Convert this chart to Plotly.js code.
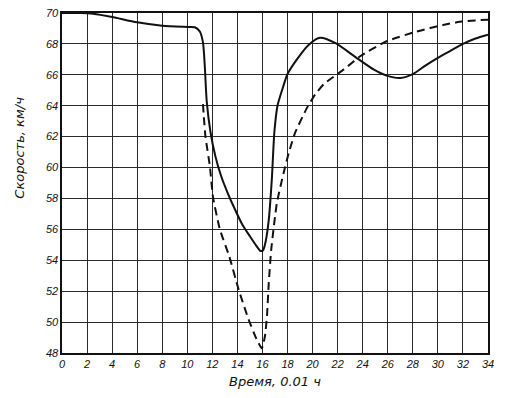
<!DOCTYPE html>
<html>
<head>
<meta charset="utf-8">
<script src="https://cdn.plot.ly/plotly-3.0.1.min.js"></script>
<style>html,body{margin:0;padding:0;background:#fff;}#chart{width:509px;height:398px;}</style>
</head>
<body>
<div id="chart"></div>
<script>
// Solid curve
var solidX = [0, 1.5, 2.5, 4, 6, 8, 10, 10.6, 11.0, 11.25, 11.4, 11.55, 11.85, 12.25, 12.7, 13.2, 13.8, 14.4, 15.0, 15.5, 15.85, 16.05, 16.25, 16.5, 16.75, 16.95, 17.2, 17.6, 18.0, 18.75, 19.7, 20.6, 21.8, 23.5, 24.9, 25.9, 27.0, 28.0, 29.0, 30.0, 31.0, 32.0, 33.0, 34.0];
var solidY = [70, 70, 69.95, 69.74, 69.4, 69.18, 69.1, 69.08, 68.8, 68.1, 66.5, 64.3, 62.3, 60.7, 59.45, 58.4, 57.3, 56.3, 55.55, 54.95, 54.6, 54.65, 55.2, 56.6, 59.3, 62.3, 64.0, 65.1, 66.05, 67.0, 67.95, 68.4, 68.06, 67.1, 66.33, 65.95, 65.8, 66.05, 66.6, 67.1, 67.55, 68.0, 68.35, 68.6];
// Dashed curve
var dashX = [11.25, 11.45, 11.8, 12.05, 12.6, 13.35, 14.1, 14.9, 15.55, 15.95, 16.2, 16.36, 16.5, 16.7, 17.15, 17.7, 18.1, 18.6, 19.55, 20.2, 20.9, 22.5, 23.8, 25.9, 28.3, 30.5, 32.0, 34.0];
var dashY = [64.1, 62.0, 60.1, 58.1, 56.0, 54.25, 52.1, 50.15, 48.86, 48.3, 49.1, 50.4, 52.5, 54.7, 57.7, 59.7, 60.95, 62.24, 63.86, 64.72, 65.4, 66.35, 67.2, 68.17, 68.8, 69.24, 69.46, 69.57];
var xTicks = [0,2,4,6,8,10,12,14,16,18,20,22,24,26,28,30,32,34];
var yTicks = [48,50,52,54,56,58,60,62,64,66,68,70];
var xTitle = 'Время, 0.01 ч';
var yTitle = 'Скорость, км/ч';

var tickFont = {family: 'Liberation Sans, Arial, sans-serif', size: 11, color: '#111', style: 'italic'};
var titleFont = {family: 'DejaVu Sans, sans-serif', size: 13, color: '#111', style: 'italic'};

var traces = [
  {x: solidX, y: solidY, mode: 'lines', line: {color: '#111', width: 2, shape: 'spline', smoothing: 0.7}, hoverinfo: 'skip'},
  {x: dashX, y: dashY, mode: 'lines', line: {color: '#111', width: 2, dash: '8px,5px', shape: 'spline', smoothing: 0.5}, hoverinfo: 'skip'}
];

var layout = {
  width: 509, height: 398,
  margin: {l: 62, r: 21, t: 13, b: 45},
  paper_bgcolor: '#fff', plot_bgcolor: '#fff',
  showlegend: false,
  xaxis: {
    range: [0, 34], tickvals: xTicks, ticktext: xTicks.map(String),
    showgrid: true, gridcolor: '#2a2a2a', gridwidth: 1,
    showline: true, linecolor: '#111', linewidth: 1.6, mirror: true,
    zeroline: false, ticks: '', tickfont: tickFont,
    title: {text: xTitle, font: titleFont, standoff: 8}
  },
  yaxis: {
    range: [48, 70], tickvals: yTicks, ticktext: yTicks.map(String),
    showgrid: true, gridcolor: '#2a2a2a', gridwidth: 1,
    showline: true, linecolor: '#111', linewidth: 1.6, mirror: true,
    zeroline: false, ticks: '', tickfont: tickFont
  },
  annotations: [
    {text: yTitle, xref: 'paper', yref: 'paper', x: -0.0986, y: 0.604, textangle: -90,
     showarrow: false, font: titleFont, xanchor: 'center', yanchor: 'middle'}
  ]
};

Plotly.newPlot('chart', traces, layout, {staticPlot: true, displayModeBar: false});
</script>
</body>
</html>
